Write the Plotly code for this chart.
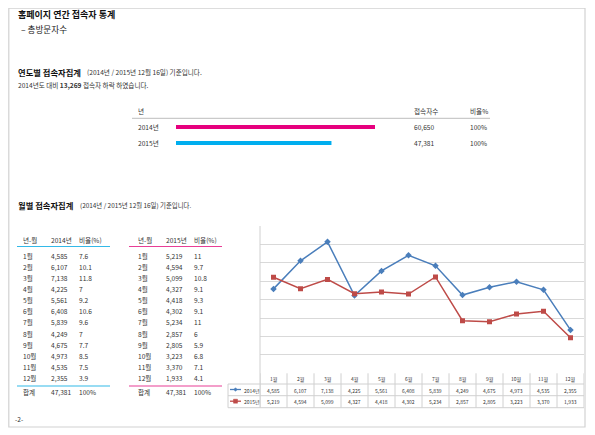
import plotly.graph_objects as go

W, H = 595, 435
OFF = 8  # page body margin of the viewer
def X(px): return (px - OFF) / W
def Y(py): return 1 - (py - OFF) / H

FONT = "Noto Sans CJK KR, Noto Sans, sans-serif"
TXT = "#333333"

# ---------------- data ----------------
years = ["2014년", "2015년"]
year_totals = [60650, 47381]
year_ratio = ["100%", "100%"]
year_colors = ["#E6007E", "#00AEEF"]

months = ["1월", "2월", "3월", "4월", "5월", "6월", "7월", "8월", "9월", "10월", "11월", "12월"]
v2014 = [4585, 6107, 7138, 4225, 5561, 6408, 5839, 4249, 4675, 4973, 4535, 2355]
r2014 = ["7.6", "10.1", "11.8", "7", "9.2", "10.6", "9.6", "7", "7.7", "8.5", "7.5", "3.9"]
v2015 = [5219, 4594, 5099, 4327, 4418, 4302, 5234, 2857, 2805, 3223, 3370, 1933]
r2015 = ["11", "9.7", "10.8", "9.1", "9.3", "9.1", "11", "6", "5.9", "6.8", "7.1", "4.1"]
total_2014 = "47,381"
total_2015 = "47,381"
diff_text = "13,269"

fig = go.Figure()

# ---------- yearly bars ----------
fig.add_trace(go.Bar(
    x=year_totals, y=years, orientation="h",
    marker=dict(color=year_colors, line=dict(width=0)),
    width=0.26, xaxis="x", yaxis="y", showlegend=False, hoverinfo="skip",
))

# ---------- monthly lines ----------
fig.add_trace(go.Scatter(
    x=months, y=v2014, mode="lines+markers", xaxis="x2", yaxis="y2",
    line=dict(color="#4A7EBB", width=1.5),
    marker=dict(symbol="diamond", size=5, color="#4A7EBB"),
    showlegend=False, hoverinfo="skip",
))
fig.add_trace(go.Scatter(
    x=months, y=v2015, mode="lines+markers", xaxis="x2", yaxis="y2",
    line=dict(color="#BE4B48", width=1.5),
    marker=dict(symbol="square", size=5, color="#BE4B48"),
    showlegend=False, hoverinfo="skip",
))

ann = []
def txt(px, py, s, size=7, bold=False, color=TXT, anchor="left", xref="paper", xv=None):
    ann.append(dict(
        x=X(px) if xv is None else xv, y=Y(py), xref=xref, yref="paper",
        text=f"<b>{s}</b>" if bold else s, showarrow=False,
        xanchor=anchor, yanchor="middle",
        font=dict(family=FONT, size=size, color=color),
    ))

# headings
txt(16, 15, "홈페이지 연간 접속자 통계", size=9, bold=True, color="#111111")
txt(19, 29, "– 총방문자수", size=8.6, color="#222222")
txt(16, 72, "연도별 접속자집계", size=8.3, bold=True, color="#111111")
txt(85, 72.5, "(2014년 / 2015년 12월 16일) 기준입니다.", size=6.6)
txt(16, 85, f"2014년도 대비 <b>{diff_text}</b> 접속자 하락 하였습니다.", size=6.6)

# yearly table
txt(136, 111, "년", size=6.6)
txt(412, 111, "접속자수", size=6.6)
txt(468, 111, "비율%", size=6.6)
for i, yr in enumerate(years):
    py = 127 + 16 * i
    txt(136, py, yr, size=6.6)
    txt(412, py, f"{year_totals[i]:,}", size=6.6)
    txt(468, py, year_ratio[i], size=6.6)

# monthly section heading
txt(16, 205, "월별 접속자집계", size=8.3, bold=True, color="#111111")
txt(78, 205.5, "(2014년 / 2015년 12월 16일) 기준입니다.", size=6.4)

# monthly tables
def month_table(x0, year_label, vals, ratios, total):
    cx = [x0, x0 + 27.5, x0 + 56]
    txt(cx[0], 240, "년-월", size=6.6)
    txt(cx[1], 240, year_label, size=6.6)
    txt(cx[2], 240, "비율(%)", size=6.6)
    for i, m in enumerate(months):
        py = 255.5 + 11.15 * i
        txt(cx[0], py, m, size=6.6)
        txt(cx[1], py, f"{vals[i]:,}", size=6.6)
        txt(cx[2], py, ratios[i], size=6.6)
    txt(cx[0], 392, "합계", size=6.6)
    txt(cx[1], 392, total, size=6.6)
    txt(cx[2], 392, "100%", size=6.6)

month_table(21, "2014년", v2014, r2014, total_2014)
month_table(136, "2015년", v2015, r2015, total_2015)

# chart data table
for i, m in enumerate(months):
    txt(0, 378.8, m, size=5, anchor="center", xref="x2", xv=m)
    txt(0, 390, f"{v2014[i]:,}", size=5, anchor="center", xref="x2", xv=m)
    txt(0, 401.7, f"{v2015[i]:,}", size=5, anchor="center", xref="x2", xv=m)
txt(241.5, 390, years[0], size=5)
txt(241.5, 401.7, years[1], size=5)
txt(13, 419, "-2-", size=6.6)

shapes = []
def line(x0, y0, x1, y1, color, w=1, xref="paper"):
    shapes.append(dict(type="line", xref=xref, yref="paper",
                       x0=x0 if xref != "paper" else X(x0), x1=x1 if xref != "paper" else X(x1),
                       y0=Y(y0), y1=Y(y1), line=dict(color=color, width=w)))

# page frame
shapes.append(dict(type="rect", xref="paper", yref="paper", x0=X(8.8), x1=X(585), y0=Y(8.2), y1=Y(427),
                   line=dict(color="#D2D2D2", width=1.2)))
# yearly table header rule
line(132, 118.3, 490, 118.3, "#BDBDBD", 1)
# monthly table rules
line(17, 246.5, 110, 246.5, "#33B9E8", 1.2)
line(17, 386, 110, 386, "#33B9E8", 1.2)
line(129, 246.5, 222, 246.5, "#E83E96", 1.2)
line(129, 386, 222, 386, "#E83E96", 1.2)

# chart data table grid
GRID = "#D0D0D0"
line(260, 226, 260, 407.7, GRID, 1)
for yy in [384, 395.7, 407.7]:
    line(228, yy, 584, yy, GRID, 1)
line(228, 384, 228, 407.7, GRID, 1)
for k in range(len(months) + 1):
    xv = k - 0.5
    shapes.append(dict(type="line", xref="x2", yref="paper", x0=xv, x1=xv,
                       y0=Y(373.3), y1=Y(407.7), line=dict(color=GRID, width=1)))
# legend keys in the table
line(230, 389.5, 241, 389.5, "#4A7EBB", 1.3)
shapes.append(dict(type="path", xref="paper", yref="paper",
                   path=f"M {X(235.5)},{Y(387.7)} L {X(237.3)},{Y(389.5)} L {X(235.5)},{Y(391.3)} L {X(233.7)},{Y(389.5)} Z",
                   fillcolor="#4A7EBB", line=dict(color="#4A7EBB", width=0.5)))
line(230, 401.2, 241, 401.2, "#BE4B48", 1.3)
shapes.append(dict(type="rect", xref="paper", yref="paper",
                   x0=X(233.5), x1=X(237.5), y0=Y(399.2), y1=Y(403.2),
                   fillcolor="#BE4B48", line=dict(color="#BE4B48", width=0.5)))

fig.update_layout(
    width=W, height=H, autosize=False,
    margin=dict(l=0, r=0, t=0, b=0),
    paper_bgcolor="white", plot_bgcolor="rgba(0,0,0,0)",
    font=dict(family=FONT, color=TXT),
    xaxis=dict(domain=[X(176), X(375)], range=[0, 60650], visible=False, fixedrange=True),
    yaxis=dict(domain=[Y(151), Y(119)], range=[1.5, -0.5], type="category", visible=False, fixedrange=True),
    xaxis2=dict(domain=[X(260), X(584)], range=[-0.5, 11.5], type="category",
                showticklabels=False, showgrid=False, zeroline=False, showline=False, ticks=""),
    yaxis2=dict(domain=[Y(373.3), Y(226)], range=[0, 8000], dtick=1000,
                showgrid=True, gridcolor="#D9D9D9", gridwidth=1,
                showticklabels=False, zeroline=False, showline=False, ticks=""),
    annotations=ann, shapes=shapes,
)

fig.write_html("out.html")
